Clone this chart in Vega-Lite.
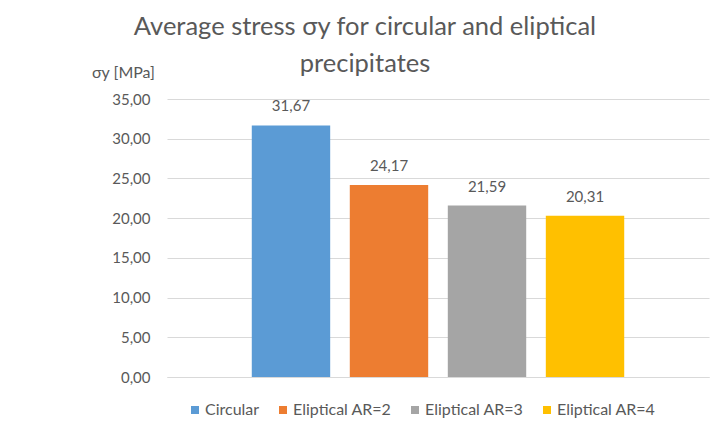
{
  "$schema": "https://vega.github.io/schema/vega-lite/v6.json",
  "width": 542,
  "height": 278,
  "autosize": {"type": "none"},
  "padding": {"left": 167, "top": 99, "right": 6, "bottom": 63},
  "background": "white",
  "config": {
    "locale": {"number": {"decimal": ",", "thousands": ".", "grouping": [3], "currency": ["", " €"]}},
    "font": "Lato",
    "view": {"stroke": null}
  },
  "title": {
    "text": ["Average stress σy for circular and eliptical", "precipitates"],
    "font": "Lato",
    "fontSize": 25.5,
    "fontWeight": "normal",
    "color": "#595959",
    "lineHeight": 37,
    "anchor": "middle",
    "frame": "group",
    "dx": -73,
    "offset": -13
  },
  "data": {
    "values": [
      {"series": "Circular", "stress": 31.67},
      {"series": "Eliptical AR=2", "stress": 24.17},
      {"series": "Eliptical AR=3", "stress": 21.59},
      {"series": "Eliptical AR=4", "stress": 20.31}
    ]
  },
  "encoding": {
    "x": {
      "field": "series",
      "type": "nominal",
      "sort": null,
      "scale": {"paddingInner": 0.2, "paddingOuter": 0.865},
      "axis": {"labels": false, "ticks": false, "title": null, "domainColor": "#D9D9D9", "domainWidth": 1}
    },
    "y": {
      "field": "stress",
      "type": "quantitative",
      "scale": {"domain": [0, 35]},
      "axis": {
        "values": [0, 5, 10, 15, 20, 25, 30, 35],
        "format": ".2f",
        "title": "σy [MPa]",
        "titleAngle": 0,
        "titleX": -44,
        "titleY": -27,
        "titleAlign": "center",
        "titleBaseline": "middle",
        "titleFont": "Lato",
        "titleFontSize": 16,
        "titleFontWeight": "normal",
        "titleColor": "#595959",
        "labelFont": "Lato",
        "labelFontSize": 15,
        "labelColor": "#595959",
        "labelPadding": 17,
        "ticks": false,
        "domain": false,
        "gridColor": "#D9D9D9",
        "gridWidth": 1
      }
    }
  },
  "layer": [
    {
      "mark": {"type": "bar"},
      "encoding": {
        "color": {
          "field": "series",
          "type": "nominal",
          "sort": null,
          "scale": {"range": ["#5B9BD5", "#ED7D31", "#A5A5A5", "#FFC000"]},
          "legend": {
            "title": null,
            "orient": "none",
            "legendX": 20,
            "legendY": 303,
            "direction": "horizontal",
            "symbolType": "square",
            "symbolSize": 64,
            "symbolStrokeWidth": 0,
            "labelFont": "Lato",
            "labelFontSize": 16,
            "labelColor": "#595959",
            "labelOffset": 2,
            "columnPadding": 15
          }
        }
      }
    },
    {
      "mark": {"type": "text", "baseline": "bottom", "dy": -11, "font": "Lato", "fontSize": 15, "color": "#595959"},
      "encoding": {
        "text": {"field": "stress", "type": "quantitative", "format": ".2f"}
      }
    }
  ]
}
